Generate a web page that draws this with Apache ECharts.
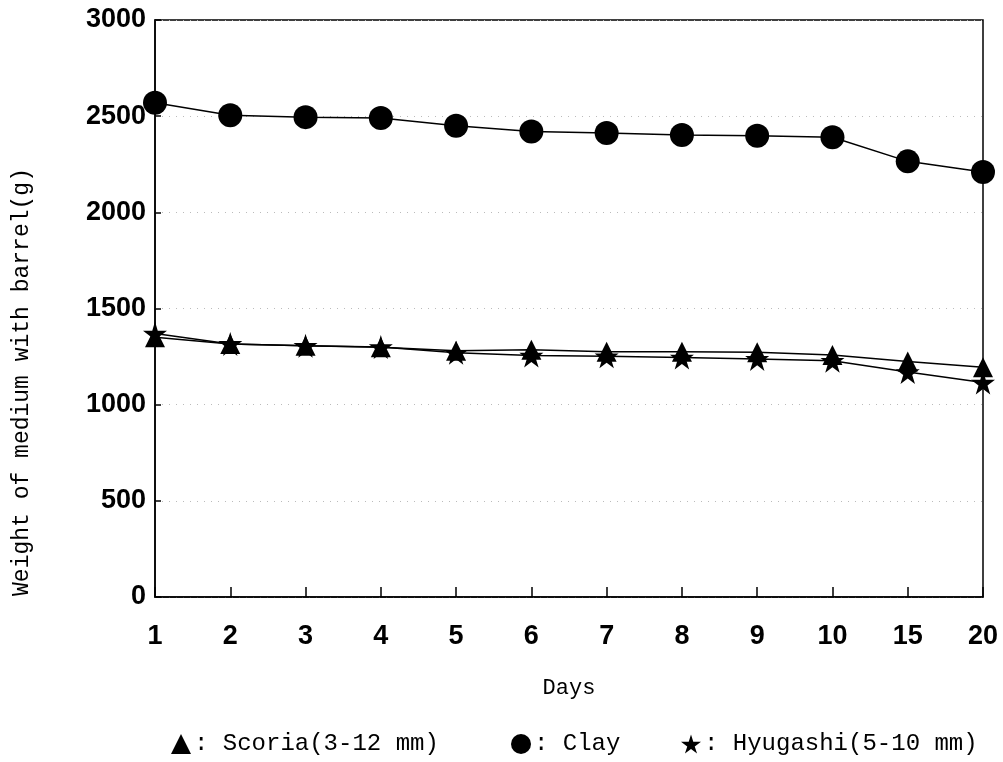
<!DOCTYPE html>
<html>
<head>
<meta charset="utf-8">
<script src="https://cdn.jsdelivr.net/npm/echarts@6/dist/echarts.min.js"></script>
<style>
  html, body { margin: 0; padding: 0; background: #fff; }
  #chart { width: 1003px; height: 762px; }
</style>
</head>
<body>
<div id="chart"></div>
<script>
// 数据
const days = ['1', '2', '3', '4', '5', '6', '7', '8', '9', '10', '15', '20'];
const scoria = [1350, 1316, 1306, 1298, 1280, 1285, 1275, 1275, 1272, 1258, 1225, 1195];
const clay = [2570, 2505, 2495, 2490, 2450, 2420, 2412, 2402, 2398, 2390, 2265, 2210];
const hyugashi = [1370, 1316, 1306, 1300, 1270, 1255, 1252, 1245, 1238, 1228, 1170, 1115];
const yTicks = [0, 500, 1000, 1500, 2000, 2500, 3000];

const starPath = 'path://M50,0 L61,35 L98,35 L68,57 L79,91 L50,70 L21,91 L32,57 L2,35 L39,35 Z';
const mono = '"Liberation Mono", "DejaVu Sans Mono", monospace';
const tickFont = '"Liberation Sans Narrow", "Liberation Sans", Arial, sans-serif';

function legendAt(left, name, icon) {
    return {
        left: left, bottom: 1,
        itemWidth: 20, itemHeight: 20, itemGap: 0,
        textStyle: { fontFamily: mono, fontSize: 24, color: '#000', padding: [0, 0, 0, -2] },
        data: [{ name: name, icon: icon }]
    };
}

let myChart = echarts.init(document.querySelector('#chart'));

myChart.setOption({
    animation: false,
    backgroundColor: '#fff',
    grid: {
        left: 155, right: 20, top: 20, bottom: 165,
        show: true, borderColor: '#000', borderWidth: 1.5
    },
    legend: [
        legendAt(166, ': Scoria(3-12 mm)', 'triangle'),
        legendAt(506, ': Clay', 'circle'),
        legendAt(676, ': Hyugashi(5-10 mm)', starPath)
    ],
    graphic: [{
        type: 'text',
        x: 10, y: 382,
        rotation: Math.PI / 2,
        style: {
            text: 'Weight of medium with barrel(g)',
            font: '23px ' + mono,
            fill: '#000',
            align: 'center',
            verticalAlign: 'top'
        }
    }],
    xAxis: {
        type: 'category',
        data: days,
        boundaryGap: false,
        name: 'Days',
        nameLocation: 'middle',
        nameGap: 80,
        nameTextStyle: { fontFamily: mono, fontSize: 22, color: '#000' },
        axisLine: { lineStyle: { color: '#000', width: 1.5 } },
        axisTick: { inside: true, length: 10, lineStyle: { color: '#000', width: 1.5 } },
        axisLabel: {
            margin: 26, color: '#000', fontSize: 27, fontWeight: 'bold',
            fontFamily: tickFont
        },
        splitLine: { show: false }
    },
    yAxis: {
        type: 'value',
        min: yTicks[0], max: yTicks[yTicks.length - 1], interval: 500,
        axisLine: { show: true, lineStyle: { color: '#000', width: 1.5 } },
        axisTick: { show: true, inside: true, length: 6, lineStyle: { color: '#000', width: 1.5 } },
        axisLabel: {
            margin: 9, color: '#000', fontSize: 27, fontWeight: 'bold',
            fontFamily: tickFont,
            formatter: function (v) { return String(v); }
        },
        splitLine: { show: true, lineStyle: { color: '#bbb', type: [1, 6], width: 1 } }
    },
    series: [
        {
            name: ': Clay', type: 'line', data: clay,
            symbol: 'circle', symbolSize: 24,
            lineStyle: { color: '#000', width: 1.5 },
            itemStyle: { color: '#000' }
        },
        {
            name: ': Hyugashi(5-10 mm)', type: 'line', data: hyugashi,
            symbol: starPath, symbolSize: 24,
            lineStyle: { color: '#000', width: 1.5 },
            itemStyle: { color: '#000' }
        },
        {
            name: ': Scoria(3-12 mm)', type: 'line', data: scoria,
            symbol: 'triangle', symbolSize: 20,
            lineStyle: { color: '#000', width: 1.5 },
            itemStyle: { color: '#000' }
        }
    ]
});
</script>
</body>
</html>
